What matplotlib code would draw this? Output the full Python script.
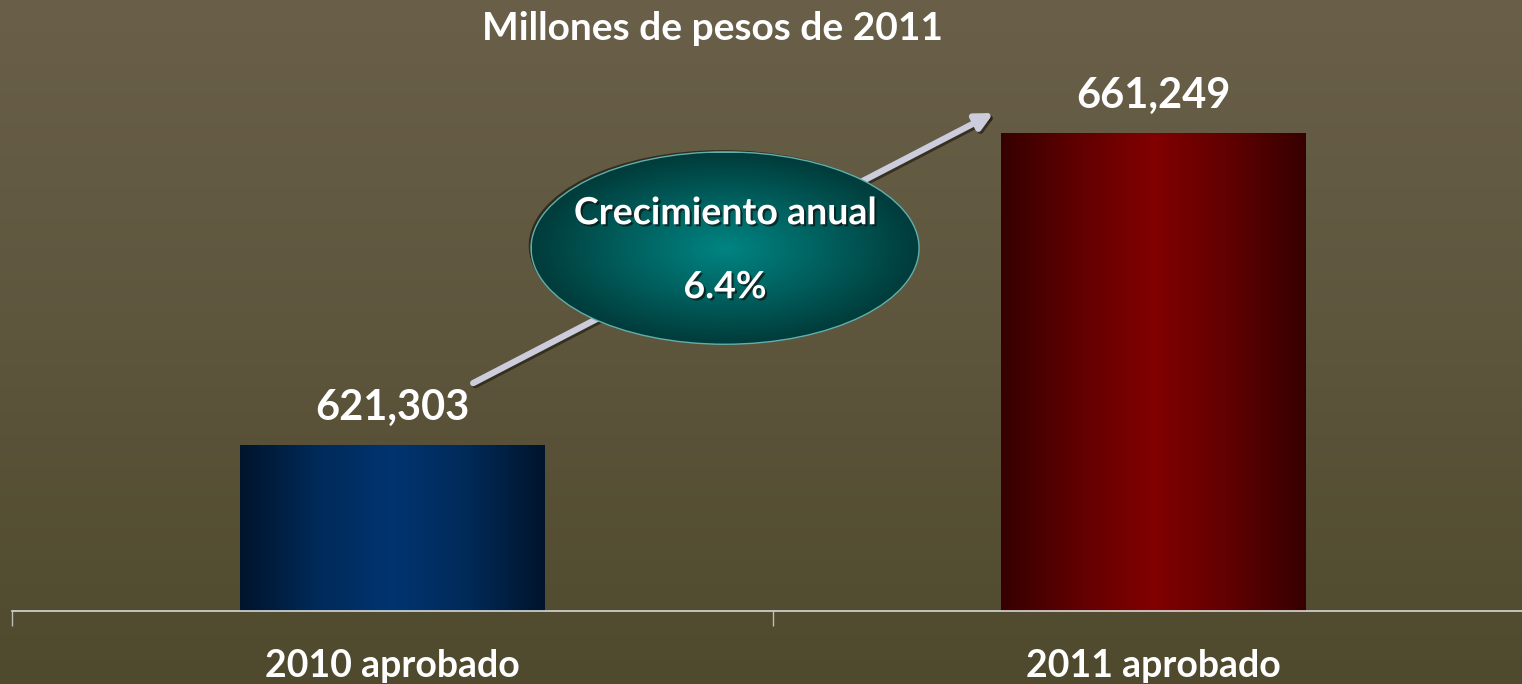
import matplotlib
matplotlib.use("Agg")
import matplotlib.pyplot as plt
import matplotlib.patheffects as pe
from matplotlib.colors import LinearSegmentedColormap
from matplotlib.patches import Ellipse
import numpy as np

plt.rcParams["font.family"] = ["Lato", "DejaVu Sans"]
plt.rcParams["font.weight"] = "bold"

# data
categories = ["2010 aprobado", "2011 aprobado"]
values = [621303, 661249]
value_labels = ["621,303", "661,249"]
title = "Millones de pesos de 2011"
growth_title = "Crecimiento anual"
growth_label = "6.4%"
y_min, y_max = 600000, 678300

bar_cmaps = [
    LinearSegmentedColormap.from_list("blu", ["#00142c", "#002a58", "#003470", "#002a58", "#00142c"]),
    LinearSegmentedColormap.from_list("red", ["#360000", "#600000", "#820000", "#600000", "#360000"]),
]

fig = plt.figure(figsize=(15.22, 6.84), dpi=100)

# background gradient
bg = fig.add_axes([0, 0, 1, 1], zorder=0)
bg_cmap = LinearSegmentedColormap.from_list("bg", ["#6a604a", "#5d553c", "#4f4a2d"])
bg.imshow(np.linspace(0, 1, 256).reshape(-1, 1), aspect="auto", cmap=bg_cmap,
          extent=[0, 1, 0, 1], origin="upper")
bg.axis("off")

W, H = 1522, 684
ax = fig.add_axes([12 / W, 73 / H, 1522 / W, 611 / H], zorder=1)
ax.patch.set_alpha(0)

x = np.arange(len(categories))
bars = ax.bar(x, values, width=0.4, color="none", edgecolor="none", zorder=2)
ax.set_xlim(-0.5, 1.5)
ax.set_ylim(y_min, y_max)

grad = np.linspace(0, 1, 256).reshape(1, -1)
for b, cm in zip(bars, bar_cmaps):
    x0 = b.get_x()
    y0 = max(b.get_y(), y_min)
    im = ax.imshow(grad, aspect="auto", cmap=cm, zorder=2,
                   extent=[x0, x0 + b.get_width(), y0, b.get_y() + b.get_height()])
    im.set_clip_path(b)

for b, lab in zip(bars, value_labels):
    ax.annotate(lab, (b.get_x() + b.get_width() / 2, b.get_height()),
                xytext=(0, 37), textcoords="offset pixels",
                ha="center", va="center", fontsize=30, color="white",
                fontweight="bold", zorder=5)

ax.set_yticks([])
for s in ["top", "right", "left"]:
    ax.spines[s].set_visible(False)
ax.spines["bottom"].set_color("#d8d8d8")
ax.spines["bottom"].set_linewidth(1.2)
ax.set_xticks([-0.5, 0.5, 1.5])
ax.set_xticklabels([])
ax.tick_params(axis="x", length=11, width=1, color="#bdbdbd", direction="out")
for xi, cat in zip(x, categories):
    ax.annotate(cat, (xi, 0), xycoords=("data", "axes fraction"),
                xytext=(0, -55), textcoords="offset pixels",
                ha="center", va="center", fontsize=27, color="white",
                fontweight="bold")

# growth arrow
ax.annotate("", xy=(0.645, 0.815), xytext=(0.303, 0.373), xycoords="axes fraction",
            arrowprops=dict(arrowstyle="-|>,head_length=1.0,head_width=0.5",
                            color="#ccccdc", lw=4.5, shrinkA=0, shrinkB=0,
                            path_effects=[pe.SimpleLineShadow(offset=(1.5, -1.5), shadow_color="#2a2618", alpha=0.8),
                                          pe.Normal()]),
            zorder=3)

# ellipse with radial gradient
ecx, ecy, ew, eh = 0.4685, 0.594, 0.254, 0.3126
ell = Ellipse((ecx, ecy), ew, eh, transform=ax.transAxes, facecolor="none",
              edgecolor="#5fb0ac", lw=2, zorder=4)
ax.add_patch(ell)
shadow = Ellipse((ecx - 0.002, ecy + 0.004), ew, eh, transform=ax.transAxes,
                 facecolor="#1a1a10", edgecolor="none", alpha=0.7, zorder=3.5)
ax.add_patch(shadow)
yy, xx = np.mgrid[-1:1:200j, -1:1:200j]
rr = np.clip(np.sqrt(xx ** 2 + yy ** 2), 0, 1)
teal = LinearSegmentedColormap.from_list("teal", ["#008482", "#00615f", "#003c3b"])
im = ax.imshow(rr, cmap=teal, transform=ax.transAxes, aspect="auto",
               extent=[ecx - ew / 2, ecx + ew / 2, ecy - eh / 2, ecy + eh / 2], zorder=4)
im.set_clip_path(ell)

txt_fx = [pe.withSimplePatchShadow(offset=(1.5, -1.5), shadow_rgbFace="#111111", alpha=0.7)]
ax.text(ecx, ecy + 0.057, growth_title, transform=ax.transAxes, ha="center", va="center",
        fontsize=27, color="white", fontweight="bold", zorder=6, path_effects=txt_fx)
ax.text(ecx, ecy - 0.064, growth_label, transform=ax.transAxes, ha="center", va="center",
        fontsize=27, color="white", fontweight="bold", zorder=6, path_effects=txt_fx)

fig.text(712 / W, 1 - 28 / H, title, ha="center", va="center", fontsize=28,
         color="white", fontweight="bold")

fig.savefig("out.png", dpi=100)
